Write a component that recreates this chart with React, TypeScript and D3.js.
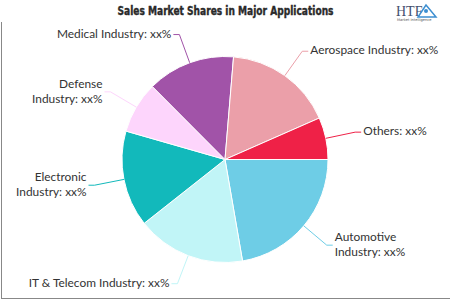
import React from "react";
import * as d3 from "d3";

const categories = [
  "Automotive Industry",
  "IT & Telecom Industry",
  "Electronic Industry",
  "Defense Industry",
  "Medical Industry",
  "Aerospace Industry",
  "Others",
];
const shares = [22.3, 17.1, 15.1, 8.1, 13.8, 17.1, 6.6];
const colors = ["#6ecde6", "#c1f5f7", "#12b9bb", "#fdd5fc", "#a153a8", "#eb9fa9", "#ef2147"];
const valueText = "xx%";
const title = "Sales Market Shares in Major Applications";

const W = 450;
const H = 300;
const CX = 225;
const CY = 159.5;
const R = 103;
const DIST = 30;
const FONT = "Lato, 'Open Sans', sans-serif";
const FS = 11.9;
const LH = 15;

function measure(t: string): number {
  const c = document.createElement("canvas").getContext("2d");
  if (!c) return t.length * 6;
  c.font = `${FS}px Lato`;
  return c.measureText(t).width;
}

export default function App() {
  const pie = d3
    .pie<number>()
    .sort(null)
    .startAngle(Math.PI / 2)
    .endAngle(Math.PI / 2 + 2 * Math.PI)(shares);
  const arc = d3.arc<d3.PieArcDatum<number>>().innerRadius(0).outerRadius(R);

  const labels = pie.map((p, i) => {
    const a = (p.startAngle + p.endAngle) / 2;
    const s = Math.sin(a);
    const c = -Math.cos(a);
    const ex = CX + R * s;
    const ey = CY + R * c;
    const bx = CX + (R + DIST) * s;
    const by = CY + (R + DIST) * c;
    const right = s >= 0;
    const lx = right ? bx + 8 : bx - 8;
    const full = `${categories[i]}: ${valueText}`;
    const avail = right ? W - lx : lx - 8;
    let lines = [full];
    if (measure(full) > avail) {
      const words = categories[i].split(" ");
      lines = [words[0], `${words.slice(1).join(" ")}: ${valueText}`];
    }
    return { ex, ey, bx, by, lx, right, lines, color: colors[i] };
  });

  return (
    <svg
      width={W}
      height={H}
      style={{ position: "absolute", left: 0, top: 0, background: "#fff" }}
    >
      <line x1={1.5} y1={22} x2={1.5} y2={298.5} stroke="#888" strokeWidth={1} />
      <line x1={1} y1={298.5} x2={W} y2={298.5} stroke="#888" strokeWidth={1} />

      <text
        x={225.5}
        y={14.5}
        textAnchor="middle"
        fontFamily="'Liberation Sans Narrow', 'DejaVu Sans Condensed', sans-serif"
        fontWeight="bold"
        fontSize={13}
        fill="#2a2a2a"
        stroke="#2a2a2a"
        strokeWidth={0.4}
        textLength={216}
        lengthAdjust="spacingAndGlyphs"
      >
        {title}
      </text>

      <g>
        <text x={396} y={16} fontFamily="'Liberation Serif', serif" fontSize={14} fill="#44506e">
          HTF
        </text>
        <path d="M426,5 L436,17 L418,17 Z" fill="none" stroke="#3d8fd1" strokeWidth={1.5} />
        <circle cx={426} cy={11} r={2} fill="#3d8fd1" />
        <text x={397} y={20.5} fontFamily="'DejaVu Sans', sans-serif" fontSize={3.6} fill="#555">
          Market Intelligence
        </text>
      </g>

      <g>
        {pie.map((p, i) => (
          <path
            key={i}
            d={arc(p) || ""}
            transform={`translate(${CX},${CY})`}
            fill={colors[i]}
            stroke="#fff"
            strokeWidth={1}
          />
        ))}
      </g>

      <g>
        {labels.map((l, i) => (
          <g key={i}>
            <path
              d={`M${l.ex},${l.ey} L${l.bx},${l.by} L${l.right ? l.lx - 2 : l.lx + 2},${l.by}`}
              fill="none"
              stroke={l.color}
              strokeWidth={1}
            />
            <text
              x={l.lx}
              textAnchor={l.right ? "start" : "end"}
              fontFamily={FONT}
              fontSize={FS}
              fill="#333"
            >
              {l.lines.map((t, j) => (
                <tspan
                  key={j}
                  x={l.lx}
                  y={l.by - 1 + (j - (l.lines.length - 1) / 2) * LH + FS * 0.35}
                >
                  {t}
                </tspan>
              ))}
            </text>
          </g>
        ))}
      </g>
    </svg>
  );
}
